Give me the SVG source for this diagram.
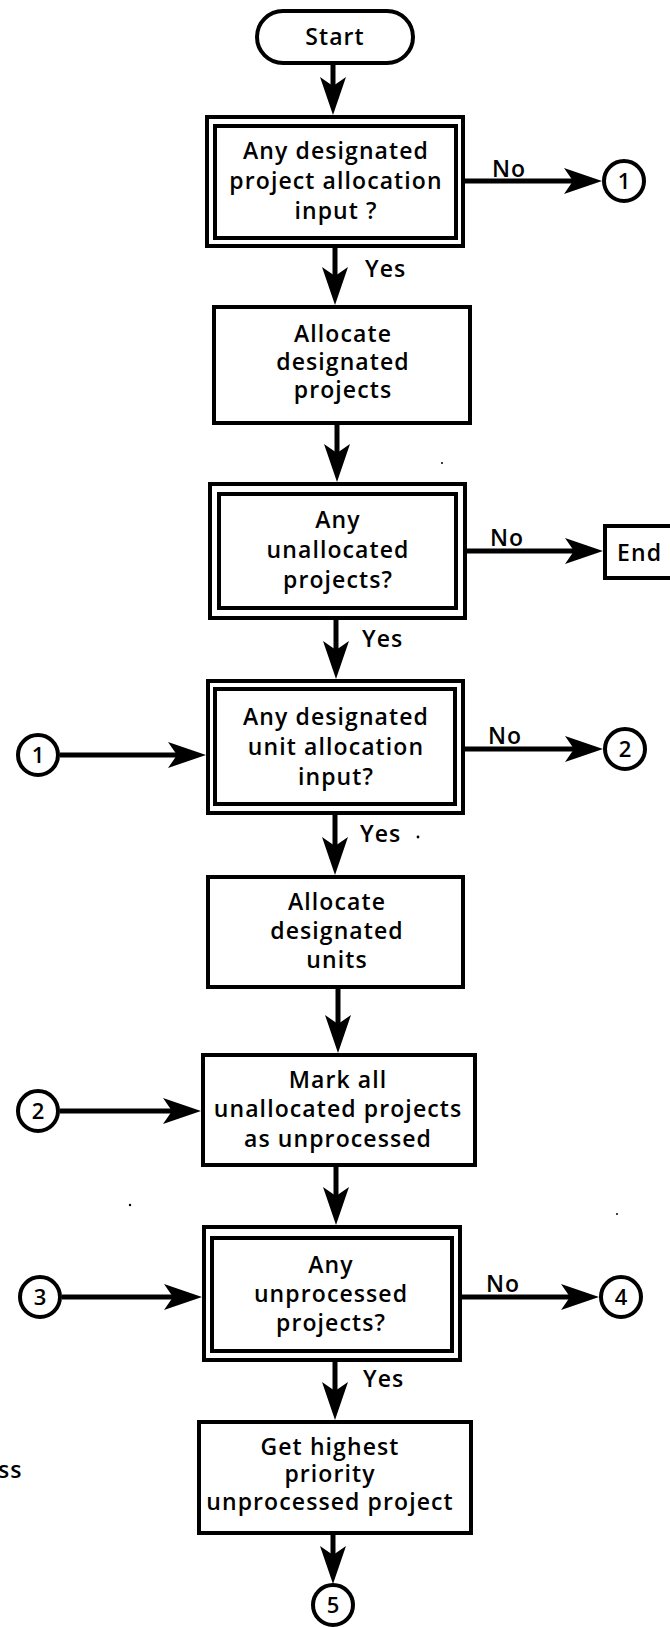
<svg xmlns="http://www.w3.org/2000/svg" width="670" height="1627" viewBox="0 0 670 1627">
  <style>
    .box { fill: #fff; stroke: #000; stroke-width: 4; }
    .inner { fill: none; stroke: #000; stroke-width: 4; }
    .conn { fill: none; stroke: #000; stroke-width: 5; marker-end: url(#ah); }
    .circ { fill: #fff; stroke: #000; stroke-width: 4; }
    text { font-family: "Open Sans", "DejaVu Sans", sans-serif; font-size: 23px; font-weight: 600; letter-spacing: 1.1px; fill: #000; }
    .c { text-anchor: middle; }
    .num { font-size: 22px; letter-spacing: 0; text-anchor: middle; }
  </style>
  <defs>
    <marker id="ah" viewBox="-40 -14 42 28" refX="-29" refY="0" markerWidth="42" markerHeight="28" markerUnits="userSpaceOnUse" orient="auto" overflow="visible">
      <path d="M0,0 L-38,-13 L-29,0 L-38,13 Z" fill="#000"/>
    </marker>
  </defs>
  <rect width="670" height="1627" fill="#fff"/>

  <!-- connectors -->
  <g id="connectors">
    <line class="conn" x1="333" y1="65" x2="333" y2="86"/>
    <line class="conn" x1="335" y1="248" x2="335" y2="276"/>
    <line class="conn" x1="465" y1="181" x2="573" y2="181"/>
    <line class="conn" x1="337" y1="425" x2="337" y2="453"/>
    <line class="conn" x1="467" y1="551" x2="574" y2="551"/>
    <line class="conn" x1="336" y1="620" x2="336" y2="650"/>
    <line class="conn" x1="60" y1="755" x2="177" y2="755"/>
    <line class="conn" x1="465" y1="749" x2="574" y2="749"/>
    <line class="conn" x1="335" y1="815" x2="335" y2="846"/>
    <line class="conn" x1="338" y1="989" x2="338" y2="1024"/>
    <line class="conn" x1="60" y1="1111" x2="172" y2="1111"/>
    <line class="conn" x1="336" y1="1167" x2="336" y2="1196"/>
    <line class="conn" x1="62" y1="1297" x2="173" y2="1297"/>
    <line class="conn" x1="462" y1="1297" x2="570" y2="1297"/>
    <line class="conn" x1="335" y1="1362" x2="335" y2="1391"/>
    <line class="conn" x1="333" y1="1535" x2="333" y2="1555"/>
    <!-- branch labels -->
    <text x="492" y="177" letter-spacing="0.3">No</text>
    <text x="365" y="277">Yes</text>
    <text x="490" y="546" letter-spacing="0.3">No</text>
    <text x="362" y="647">Yes</text>
    <text x="488" y="744" letter-spacing="0.3">No</text>
    <text x="360" y="842">Yes</text>
    <circle cx="418" cy="837" r="1.4" fill="#000"/>
    <text x="486" y="1292" letter-spacing="0.3">No</text>
    <text x="363" y="1387">Yes</text>
  </g>

  <!-- start terminal -->
  <g id="start">
    <rect class="box" x="257" y="11" width="156" height="52" rx="26" ry="26"/>
    <text class="c" x="335" y="45">Start</text>
  </g>

  <!-- decision: designated project allocation -->
  <g id="dec-project-input">
    <rect class="box" x="207" y="117" width="256" height="129"/>
    <rect class="inner" x="215" y="126" width="241" height="112"/>
    <text class="c" x="336" y="159">Any designated</text>
    <text class="c" x="336" y="189">project allocation</text>
    <text class="c" x="336" y="219">input ?</text>
  </g>

  <g id="conn-1-top">
    <circle class="circ" cx="624" cy="181" r="20"/>
    <text class="num" x="624" y="189">1</text>
  </g>

  <g id="alloc-projects">
    <rect class="box" x="214" y="307" width="256" height="116"/>
    <text class="c" x="343" y="342">Allocate</text>
    <text class="c" x="343" y="370">designated</text>
    <text class="c" x="343" y="398">projects</text>
  </g>

  <!-- decision: unallocated projects -->
  <g id="dec-unallocated">
    <rect class="box" x="210" y="484" width="255" height="134"/>
    <rect class="inner" x="219" y="494" width="237" height="114"/>
    <text class="c" x="338" y="528">Any</text>
    <text class="c" x="338" y="558">unallocated</text>
    <text class="c" x="338" y="588">projects?</text>
  </g>

  <g id="end">
    <rect class="box" x="605" y="526" width="90" height="52"/>
    <text x="617" y="561">End</text>
  </g>

  <!-- decision: designated unit allocation -->
  <g id="dec-unit-input">
    <rect class="box" x="208" y="681" width="255" height="132"/>
    <rect class="inner" x="215" y="689" width="240" height="115"/>
    <text class="c" x="336" y="725">Any designated</text>
    <text class="c" x="336" y="755">unit allocation</text>
    <text class="c" x="336" y="785">input?</text>
  </g>

  <g id="conn-1-left">
    <circle class="circ" cx="38" cy="755" r="20"/>
    <text class="num" x="38" y="763">1</text>
  </g>

  <g id="conn-2-right">
    <circle class="circ" cx="625" cy="749" r="20"/>
    <text class="num" x="625" y="757">2</text>
  </g>

  <g id="alloc-units">
    <rect class="box" x="208" y="877" width="255" height="110"/>
    <text class="c" x="337" y="910">Allocate</text>
    <text class="c" x="337" y="939">designated</text>
    <text class="c" x="337" y="968">units</text>
  </g>

  <g id="mark-unprocessed">
    <rect class="box" x="203" y="1055" width="272" height="110"/>
    <text class="c" x="338" y="1088">Mark all</text>
    <text class="c" x="338" y="1117">unallocated projects</text>
    <text class="c" x="338" y="1147">as unprocessed</text>
  </g>

  <g id="conn-2-left">
    <circle class="circ" cx="38" cy="1111" r="20"/>
    <text class="num" x="38" y="1119">2</text>
  </g>

  <!-- decision: unprocessed projects -->
  <g id="dec-unprocessed">
    <rect class="box" x="204" y="1227" width="256" height="133"/>
    <rect class="inner" x="212" y="1238" width="240" height="113"/>
    <text class="c" x="331" y="1273">Any</text>
    <text class="c" x="331" y="1302">unprocessed</text>
    <text class="c" x="331" y="1331">projects?</text>
  </g>

  <g id="conn-3-left">
    <circle class="circ" cx="40" cy="1297" r="20"/>
    <text class="num" x="40" y="1305">3</text>
  </g>

  <g id="conn-4-right">
    <circle class="circ" cx="621" cy="1297" r="20"/>
    <text class="num" x="621" y="1305">4</text>
  </g>

  <g id="get-highest">
    <rect class="box" x="199" y="1422" width="272" height="111"/>
    <text class="c" x="330" y="1455">Get highest</text>
    <text class="c" x="330" y="1482">priority</text>
    <text class="c" x="330" y="1510">unprocessed project</text>
  </g>

  <g id="conn-5">
    <circle class="circ" cx="333" cy="1605" r="20"/>
    <text class="num" x="333" y="1613">5</text>
  </g>

  <!-- stray text at the left margin -->
  <text x="-2" y="1478" letter-spacing="-1">ss</text>

  <!-- specks -->
  <circle cx="442" cy="463" r="1" fill="#000"/>
  <circle cx="130" cy="1205" r="1.2" fill="#000"/>
  <circle cx="617" cy="1214" r="1" fill="#000"/>
</svg>
